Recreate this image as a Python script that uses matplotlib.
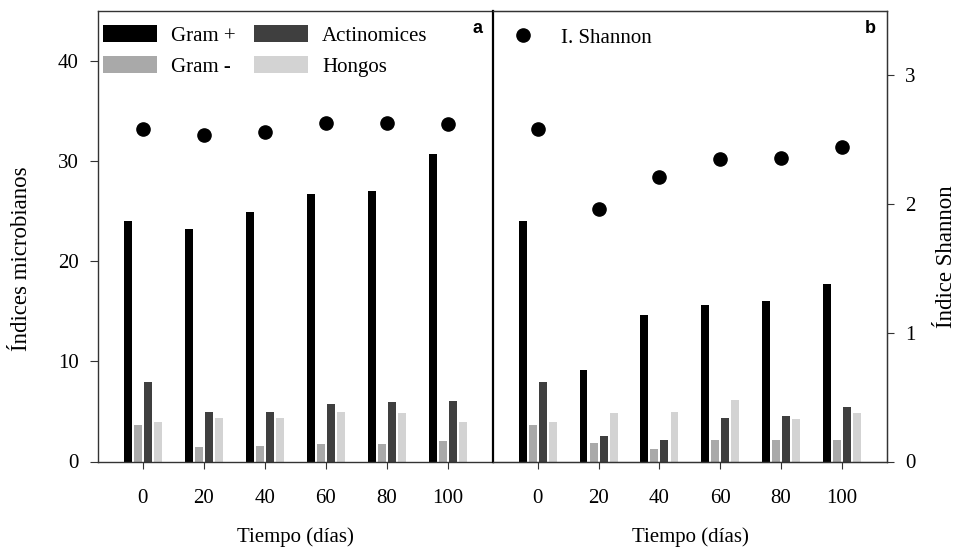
import matplotlib
matplotlib.use("Agg")
import matplotlib.pyplot as plt
import numpy as np
from matplotlib.patches import Patch
from matplotlib.lines import Line2D

plt.rcParams["font.family"] = ["Liberation Serif", "DejaVu Serif"]

# ---- data ----
dias = ["0", "20", "40", "60", "80", "100"]
grupos = ["Gram +", "Gram -", "Actinomices", "Hongos"]
colores = ["#000000", "#a9a9a9", "#3f3f3f", "#d3d3d3"]

# panel a
gram_pos_a = [24.0, 23.2, 24.9, 26.7, 27.0, 30.7]
gram_neg_a = [3.6, 1.4, 1.5, 1.7, 1.7, 2.0]
actino_a = [7.9, 4.9, 4.9, 5.7, 5.9, 6.0]
hongos_a = [3.9, 4.3, 4.3, 4.9, 4.8, 3.9]
shannon_a = [2.58, 2.54, 2.56, 2.63, 2.63, 2.62]

# panel b
gram_pos_b = [24.0, 9.1, 14.6, 15.6, 16.0, 17.7]
gram_neg_b = [3.6, 1.8, 1.2, 2.1, 2.1, 2.1]
actino_b = [7.9, 2.5, 2.1, 4.3, 4.5, 5.4]
hongos_b = [3.9, 4.8, 4.9, 6.1, 4.2, 4.8]
shannon_b = [2.58, 1.96, 2.21, 2.35, 2.36, 2.44]

fig = plt.figure(figsize=(9.57, 5.51), dpi=100)
bottom = (551 - 461.5) / 551
height = 450.5 / 551
ax1 = fig.add_axes([98 / 957, bottom, 395 / 957, height])
ax2 = fig.add_axes([493 / 957, bottom, 394 / 957, height])

x = np.arange(len(dias))
width = 0.13
step = 0.165
frame = "#333333"
fs = 15


def draw_panel(ax, series, shannon):
    for k, (vals, col) in enumerate(zip(series, colores)):
        ax.bar(x + (k - 1.5) * step, vals, width=width, color=col, linewidth=0)
    ax.set_xlim(-0.735, 5.74)
    ax.set_ylim(0, 45)
    ax.set_xticks(x)
    ax.set_xticklabels(dias, fontsize=fs)
    ax.tick_params(axis="x", direction="out", length=5, pad=15, color=frame)
    ax.set_xlabel("Tiempo (días)", fontsize=fs)
    ax.xaxis.set_label_coords(0.5, -0.145)
    for s in ax.spines.values():
        s.set_color(frame)
        s.set_linewidth(1.0)
    tw = ax.twinx()
    tw.set_ylim(0, 3.5)
    tw.plot(x, shannon, "o", color="black", markersize=9.5)
    return tw


tw1 = draw_panel(ax1, [gram_pos_a, gram_neg_a, actino_a, hongos_a], shannon_a)
tw2 = draw_panel(ax2, [gram_pos_b, gram_neg_b, actino_b, hongos_b], shannon_b)

# left axis
ax1.set_yticks([0, 10, 20, 30, 40])
ax1.tick_params(axis="y", direction="out", length=6, pad=8, labelsize=fs, color=frame)
ax1.set_ylabel("Índices microbianos", fontsize=16.5)
ax1.yaxis.set_label_coords(-0.168, 0.45)
ax1.spines["right"].set_visible(False)
tw1.axis("off")

# panel b axes
ax2.set_yticks([])
ax2.spines["left"].set_color("black")
ax2.spines["left"].set_linewidth(1.6)
for s in tw2.spines.values():
    s.set_color(frame)
tw2.spines["left"].set_visible(False)
tw2.set_yticks([0, 1, 2, 3])
tw2.tick_params(axis="y", direction="out", length=5, pad=8, labelsize=fs, color=frame)
tw2.set_ylabel("Índice Shannon", fontsize=16.5)
tw2.yaxis.set_label_coords(1.125, 0.454)

# legends
handles = [Patch(facecolor=c, edgecolor="none", label=g) for g, c in zip(grupos, colores)]
ax1.legend(handles=handles, ncol=2, loc="upper left", bbox_to_anchor=(0.013, 0.968),
           frameon=False, fontsize=fs, handlelength=2.6, handleheight=0.85,
           handletextpad=0.65, columnspacing=0.9, labelspacing=0.5,
           borderpad=0, borderaxespad=0)
shannon_handle = Line2D([], [], marker="o", color="black", linestyle="none",
                        markersize=9.5, label="I. Shannon")
tw2.legend(handles=[shannon_handle], loc="upper left", bbox_to_anchor=(0.025, 0.962),
           frameon=False, fontsize=fs, handlelength=1.9, handletextpad=0.9,
           borderpad=0, borderaxespad=0)

# panel letters
ax1.text(0.96, 0.962, "a", transform=ax1.transAxes, ha="center", va="center",
         fontsize=13, fontweight="bold", family="Liberation Sans")
ax2.text(0.957, 0.962, "b", transform=ax2.transAxes, ha="center", va="center",
         fontsize=13, fontweight="bold", family="Liberation Sans")

plt.savefig("out.png", dpi=100)
